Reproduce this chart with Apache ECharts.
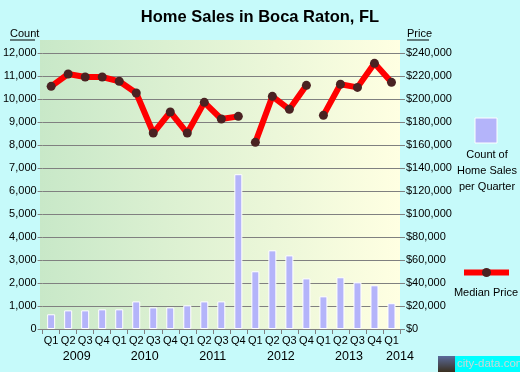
<!DOCTYPE html>
<html>
<head>
<meta charset="utf-8">
<script src="https://cdn.jsdelivr.net/npm/echarts@6/dist/echarts.min.js"></script>
<style>
html,body{margin:0;padding:0;background:#c6fafa;}
#chart{width:520px;height:372px;}
</style>
</head>
<body>
<div id="chart"></div>
<script>
const quarters = ['Q1','Q2','Q3','Q4','Q1','Q2','Q3','Q4','Q1','Q2','Q3','Q4','Q1','Q2','Q3','Q4','Q1','Q2','Q3','Q4','Q1'];
const years = ['2009','2010','2011','2012','2013','2014'];
const salesCounts = [640,810,810,855,855,1200,940,940,1030,1200,1200,6730,2510,3420,3200,2200,1420,2250,2030,1900,1120];
const medianPrices = [211000,221700,219100,219100,215400,205200,170400,188700,170400,197100,182600,184900,162300,202300,191000,211900,185800,212800,210100,231000,214500];
const priceSegmentStarts = [0,12,16];
const countAxis = {min:0, max:12000, step:1000};
const priceAxis = {min:0, max:240000, step:20000};

const FONT = "'Liberation Sans', Arial, sans-serif";
const GRID = {left:40, right:120, bottom:43};

// year labels placed at category boundaries (centered on each year's quarters)
const yearBoundaryLabels = new Array(quarters.length + 1).fill('');
years.forEach((y, i) => {
  const idx = Math.min(4 * i + 2, quarters.length);
  yearBoundaryLabels[idx] = y;
});

// line segments (gaps between segments)
const lineSeries = priceSegmentStarts.map((start, s) => {
  const end = s + 1 < priceSegmentStarts.length ? priceSegmentStarts[s + 1] : medianPrices.length;
  return {
    type: 'line',
    xAxisIndex: 1, yAxisIndex: 2,
    data: medianPrices.map((v, i) => (i >= start && i < end) ? v : '-'),
    symbol: 'circle', symbolSize: 9,
    lineStyle: {color: '#ff0000', width: 6},
    itemStyle: {color: '#4a2222'},
    z: 5, animation: false, silent: true
  };
});

const fmtThousands = v => String(v).replace(/\B(?=(\d{3})+(?!\d))/g, ',');

const chart = echarts.init(document.getElementById('chart'), null, {renderer: 'canvas'});
chart.setOption({
  backgroundColor: '#c6fafa',
  animation: false,
  textStyle: {fontFamily: FONT},
  title: {
    text: 'Home Sales in Boca Raton, FL',
    left: 'center', top: 4,
    textStyle: {fontFamily: FONT, fontSize: 16.5, fontWeight: 'bold', color: '#000'}
  },
  grid: [
    {left: GRID.left, right: GRID.right, top: 40, bottom: GRID.bottom, show: true, borderWidth: 0,
     backgroundColor: new echarts.graphic.LinearGradient(0, 0, 1, 0, [
       {offset: 0, color: '#c8e8c8'},
       {offset: 1, color: '#ffffe2'}
     ])},
    {left: GRID.left, right: GRID.right, top: 53, bottom: GRID.bottom}
  ],
  xAxis: [
    {gridIndex: 0, type: 'category', data: quarters, show: false},
    {gridIndex: 1, type: 'category', data: quarters, position: 'bottom',
     axisLine: {show: true, lineStyle: {color: '#808080'}},
     axisTick: {show: true, length: 5, lineStyle: {color: '#808080'}},
     axisLabel: {interval: 0, margin: 6, color: '#000', fontSize: 11, fontFamily: FONT}},
    {gridIndex: 1, type: 'category', data: yearBoundaryLabels, boundaryGap: false, position: 'bottom',
     axisLine: {show: false}, axisTick: {show: false},
     axisLabel: {interval: 0, margin: 21, color: '#000', fontSize: 12.5, fontFamily: FONT}}
  ],
  yAxis: [
    {gridIndex: 0, type: 'value', show: false, min: 0, max: 1},
    {gridIndex: 1, type: 'value', position: 'left', min: countAxis.min, max: countAxis.max, interval: countAxis.step,
     axisLine: {show: false},
     axisTick: {show: true, length: 5, lineStyle: {color: '#808080'}},
     splitLine: {show: true, lineStyle: {color: '#808080', width: 1}},
     axisLabel: {margin: 6, color: '#000', fontSize: 11, fontFamily: FONT, formatter: fmtThousands}},
    {gridIndex: 1, type: 'value', position: 'right', min: priceAxis.min, max: priceAxis.max, interval: priceAxis.step,
     axisLine: {show: false},
     axisTick: {show: true, length: 5, lineStyle: {color: '#808080'}},
     splitLine: {show: false},
     axisLabel: {margin: 6, color: '#000', fontSize: 11, fontFamily: FONT, formatter: v => '$' + fmtThousands(v)}}
  ],
  series: [
    {type: 'bar', xAxisIndex: 1, yAxisIndex: 1, data: salesCounts, barWidth: 8,
     itemStyle: {color: '#b4b4fa', borderColor: '#ffffff', borderWidth: 1},
     z: 3, silent: true}
  ].concat(lineSeries),
  graphic: [
    {type: 'text', left: 10, top: 28, style: {text: 'Count', font: '11px ' + FONT, fill: '#000'}},
    {type: 'line', shape: {x1: 10, y1: 40, x2: 35, y2: 40}, style: {stroke: '#000', lineWidth: 1}},
    {type: 'text', left: 407, top: 28, style: {text: 'Price', font: '11px ' + FONT, fill: '#000'}},
    {type: 'line', shape: {x1: 407, y1: 40, x2: 429, y2: 40}, style: {stroke: '#000', lineWidth: 1}},
    // legend: count
    {type: 'rect', shape: {x: 475, y: 118, width: 22, height: 25}, style: {fill: '#b4b4fa', stroke: '#ffffff', lineWidth: 1}},
    {type: 'text', x: 487, y: 147, style: {text: 'Count of\nHome Sales\nper Quarter', font: '11px ' + FONT, fill: '#000', align: 'center', lineHeight: 16}},
    // legend: median price
    {type: 'line', shape: {x1: 464, y1: 272.5, x2: 509, y2: 272.5}, style: {stroke: '#ff0000', lineWidth: 6}},
    {type: 'circle', shape: {cx: 486.5, cy: 272.5, r: 4.5}, style: {fill: '#4a2222'}},
    {type: 'text', x: 486, y: 287, style: {text: 'Median Price', font: '11px ' + FONT, fill: '#000', align: 'center'}},
    // watermark
    {type: 'rect', shape: {x: 438, y: 356, width: 17, height: 16}, style: {fill: new echarts.graphic.LinearGradient(0,0,0,1,[{offset:0,color:'#5a6a9a'},{offset:1,color:'#3a3020'}])}},
    {type: 'rect', shape: {x: 455, y: 356, width: 65, height: 16}, style: {fill: '#00ffff'}},
    {type: 'text', x: 457, y: 358, style: {text: 'city-data.com', font: '11.5px ' + FONT, fill: '#c8d8d8'}}
  ]
});
</script>
</body>
</html>
